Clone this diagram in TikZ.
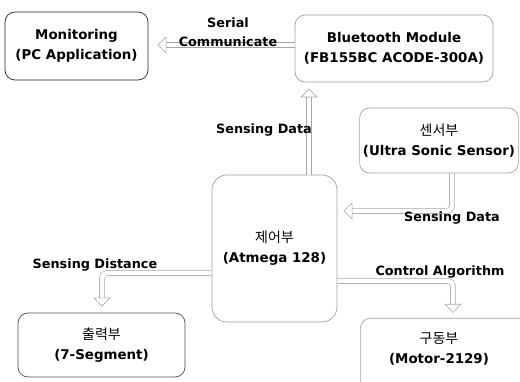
\documentclass[tikz,border=0pt]{standalone}
\usepackage{fontspec}
\setmainfont{DejaVu Sans}
\newfontfamily\kr{Noto Sans CJK KR}
\usetikzlibrary{arrows.meta,calc}
\newcommand{\krt}[1]{{\kr\mdseries\fontsize{14}{14}\selectfont #1}}
\begin{document}
\begin{tikzpicture}[x=1pt,y=-1pt,
  box/.style={draw=gray!75, line width=0.7pt, rounded corners=10pt, align=center, font=\fontsize{13.4}{20}\selectfont\bfseries},
  lbl/.style={font=\fontsize{12.8}{19}\selectfont\bfseries, align=center, inner sep=0pt},
  blk/.style={draw=gray!70, line width=0.6pt, double=white, double distance=4.5pt, rounded corners=5pt,
     -{Triangle[open, length=9pt, width=17pt]}}]
\useasboundingbox (0,0) rectangle (520,382);
\node[box, draw=black!85, minimum width=143pt, minimum height=68pt] (mon) at (76.5,46) {Monitoring\\(PC Application)};
\node[box, minimum width=198pt, minimum height=67pt] (bt) at (394,48.5) {Bluetooth Module\\(FB155BC ACODE-300A)};
\node[box, minimum width=158pt, minimum height=65pt] (sen) at (439,140.5) {\krt{센서부}\\(Ultra Sonic Sensor)};
\node[box, rounded corners=15pt, minimum width=125pt, minimum height=147pt] (ctl) at (274.5,248.5) {\krt{제어부}\\(Atmega 128)};
\node[box, draw=black!70, minimum width=167pt, minimum height=64pt] (out) at (101.5,345) {\krt{출력부}\\(7-Segment)};
\node[box, anchor=north west, minimum width=175pt, minimum height=90pt] (drv) at (360,318) {};
\node[lbl, font=\fontsize{13.4}{20}\selectfont\bfseries] (drvt) at (439,349) {\krt{구동부}\\(Motor-2129)};

\coordinate (a1) at ([yshift=3.5pt]bt.west);
\coordinate (b1) at (a1 -| mon.east);
\coordinate (a2) at ([xshift=34.5pt]ctl.north);
\coordinate (b2) at (a2 |- bt.south);
\draw[blk, shorten >=9pt] (a1) -- (b1);
\draw[blk, shorten >=6pt] (a2) -- (b2);
\draw[blk, shorten >=6pt] (sen.south -| 452,0) |- (ctl.east |- 0,211);
\draw[blk, shorten >=6pt] (ctl.west |- 0,273) -| (out.north -| 102,0);
\draw[blk, shorten >=5pt] (ctl.east |- 0,281) -| (drv.north -| 453,0);

\node[lbl] (l1) at (228,32) {Serial\\Communicate};
\node[lbl] (l2) at (264,130) {Sensing Data};
\node[lbl] (l3) at (452,218) {Sensing Data};
\node[lbl] (l4) at (95,265) {Sensing Distance};
\node[lbl] (l5) at (440,272) {Control Algorithm};
\end{tikzpicture}
\end{document}
